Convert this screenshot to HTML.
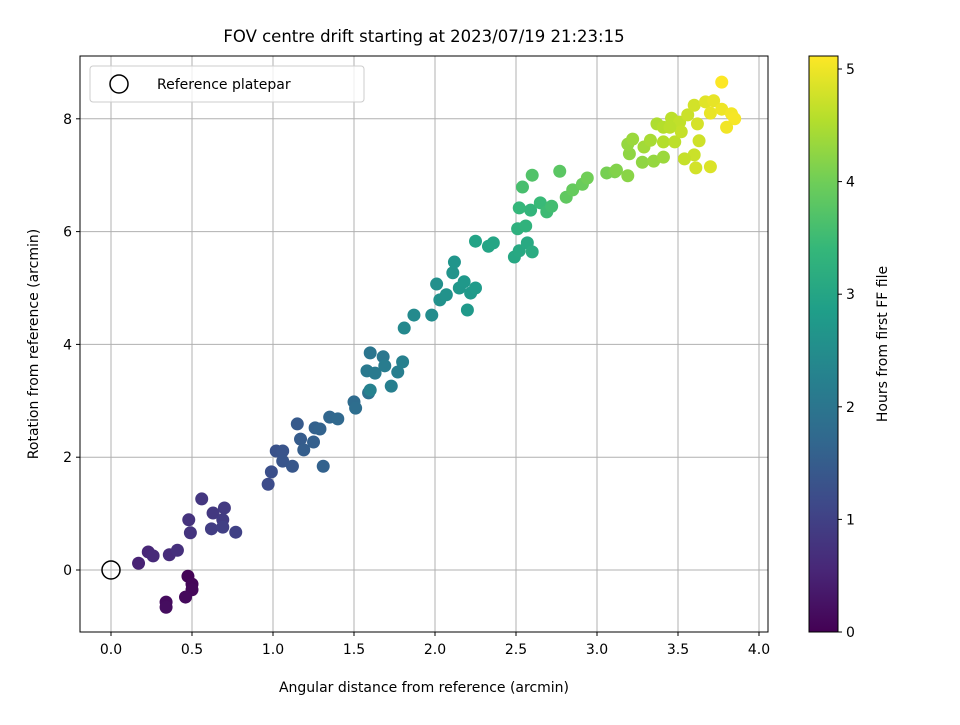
<!DOCTYPE html>
<html><head><meta charset="utf-8"><style>
body{margin:0;background:#fff;}
svg text{font-family:"DejaVu Sans","Liberation Sans",sans-serif;fill:#000;}
</style></head><body>
<svg id="chart" width="960" height="720" xmlns="http://www.w3.org/2000/svg">
<defs>
<linearGradient id="vir" x1="0" y1="1" x2="0" y2="0">
<stop offset="0" stop-color="#440154"/><stop offset="0.111" stop-color="#482878"/>
<stop offset="0.222" stop-color="#3e4989"/><stop offset="0.333" stop-color="#31688e"/>
<stop offset="0.444" stop-color="#26828e"/><stop offset="0.556" stop-color="#1f9e89"/>
<stop offset="0.667" stop-color="#35b779"/><stop offset="0.778" stop-color="#6dcd59"/>
<stop offset="0.889" stop-color="#b4de2c"/>
<stop offset="1" stop-color="#fde725"/>
</linearGradient>
</defs>
<text x="424" y="42" text-anchor="middle" font-size="16.5">FOV centre drift starting at 2023/07/19 21:23:15</text>
<g id="grid"></g>
<g id="marks"></g>
<rect x="80" y="56" width="688" height="576" fill="none" stroke="#000" stroke-width="1"/>
<g id="ticks"></g>
<text x="424" y="692" text-anchor="middle" font-size="14">Angular distance from reference (arcmin)</text>
<text transform="translate(38,344) rotate(-90)" text-anchor="middle" font-size="14">Rotation from reference (arcmin)</text>
<g>
<rect x="90" y="66" width="274" height="36" rx="3" fill="#fff" fill-opacity="0.8" stroke="#ccc"/>
<circle cx="119" cy="84" r="9" fill="none" stroke="#000" stroke-width="1.5"/>
<text x="157" y="89" font-size="14">Reference platepar</text>
</g>
<rect x="809" y="56" width="29" height="576" fill="url(#vir)" stroke="#000" stroke-width="1"/>
<g id="cbticks"></g>
<text transform="translate(887,344) rotate(-90)" text-anchor="middle" font-size="14">Hours from first FF file</text>
</svg>
<script>
const xTicks=[0.0,0.5,1.0,1.5,2.0,2.5,3.0,3.5,4.0];
const yTicks=[0,2,4,6,8];
const cbTicks=[0,1,2,3,4,5];
const xs=[0.475,0.50,0.50,0.46,0.34,0.34,
0.17,0.23,0.26,0.36,0.41,
0.48,0.49,0.56,0.63,0.70,0.69,0.62,0.69,0.77,
0.97,0.99,1.02,1.06,1.06,1.12,1.15,1.17,1.19,1.25,1.26,1.29,1.31,1.35,1.40,1.50,1.51,1.59,
1.60,1.68,1.58,1.63,1.69,1.77,1.80,1.73,1.60,
1.81,1.87,1.98,2.01,2.03,2.07,2.11,2.12,2.15,2.18,2.22,2.25,2.20,
2.25,2.33,2.36,2.49,2.52,2.57,2.60,
2.51,2.56,2.59,2.52,2.65,2.69,2.72,2.54,2.60,2.77,2.81,2.85,2.91,2.94,3.06,3.11,
3.12,3.19,3.28,3.35,3.41,3.20,3.19,3.22,3.29,3.33,3.37,3.41,3.41,3.48,3.46,3.51,3.52,3.56,3.60,3.62,3.63,3.60,3.54,3.61,3.70,3.67,3.72,3.70,3.77,3.83,3.85,3.80,3.77,3.45];
const ys=[-0.11,-0.25,-0.35,-0.48,-0.57,-0.66,
0.12,0.32,0.25,0.27,0.35,
0.89,0.66,1.26,1.01,1.10,0.89,0.73,0.76,0.67,
1.52,1.74,2.11,2.11,1.93,1.84,2.59,2.32,2.13,2.27,2.52,2.50,1.84,2.71,2.68,2.98,2.87,3.14,
3.85,3.78,3.53,3.49,3.62,3.51,3.69,3.26,3.19,
4.29,4.52,4.52,5.07,4.79,4.88,5.27,5.46,5.00,5.11,4.91,5.00,4.61,
5.83,5.74,5.80,5.55,5.66,5.80,5.64,
6.05,6.10,6.38,6.42,6.51,6.35,6.45,6.79,7.00,7.07,6.61,6.74,6.84,6.95,7.04,7.06,
7.09,6.99,7.23,7.25,7.32,7.38,7.55,7.64,7.50,7.62,7.91,7.85,7.59,7.59,8.01,7.94,7.77,8.07,8.24,7.91,7.61,7.36,7.29,7.13,7.15,8.30,8.32,8.10,8.17,8.09,8.00,7.85,8.65,7.85];
const hours=[0.05,0.08,0.10,0.12,0.15,0.18,
0.50,0.55,0.60,0.65,0.70,
0.75,0.78,0.82,0.85,0.88,0.90,0.93,0.96,1.00,
1.20,1.25,1.30,1.33,1.36,1.40,1.44,1.48,1.52,1.55,1.58,1.62,1.60,1.68,1.72,1.80,1.84,1.90,
2.00,2.04,2.07,2.10,2.14,2.18,2.22,2.20,2.26,
2.40,2.44,2.48,2.55,2.58,2.60,2.63,2.66,2.70,2.72,2.75,2.78,2.74,
2.95,2.98,3.00,3.05,3.08,3.10,3.14,
3.25,3.30,3.35,3.38,3.45,3.50,3.55,3.60,3.70,3.80,3.85,3.90,3.95,4.00,4.05,4.10,
4.15,4.20,4.25,4.30,4.35,4.25,4.30,4.35,4.40,4.45,4.50,4.55,4.55,4.62,4.60,4.65,4.68,4.72,4.78,4.80,4.75,4.72,4.68,4.78,4.85,4.90,4.94,4.96,5.00,5.04,5.06,5.02,5.11,4.60];
const sx=v=>111+v*162, sy=v=>570-v*56.4, sc=h=>632-h*112.6;
const vir=[[68,1,84],[72,40,120],[62,73,137],[49,104,142],[38,130,142],[31,158,137],[53,183,121],[109,205,89],[180,222,44],[253,231,37]];
function col(h){let t=Math.max(0,Math.min(1,h/5.115))*(vir.length-1);let i=Math.min(Math.floor(t),vir.length-2),f=t-i;
return 'rgb('+vir[i].map((c,k)=>Math.round(c+(vir[i+1][k]-c)*f)).join(',')+')';}
const NS='http://www.w3.org/2000/svg';
function mk(tag,attrs,parent,txt){const e=document.createElementNS(NS,tag);for(const k in attrs)e.setAttribute(k,attrs[k]);if(txt!==undefined)e.textContent=txt;parent.appendChild(e);return e;}
const grid=document.getElementById('grid'),ticks=document.getElementById('ticks'),marks=document.getElementById('marks'),cbt=document.getElementById('cbticks');
xTicks.forEach(v=>{const x=sx(v);
const g=mk('line',{x1:x,x2:x,y1:56,y2:632,stroke:'#b0b0b0','stroke-width':1},grid);


mk('line',{x1:x,x2:x,y1:632,y2:636,stroke:'#000'},ticks);
const t=mk('text',{x:x,y:654,'text-anchor':'middle','font-size':14},ticks,v.toFixed(1));

});
yTicks.forEach(v=>{const y=sy(v);
const g=mk('line',{x1:80,x2:768,y1:y,y2:y,stroke:'#b0b0b0','stroke-width':1},grid);


mk('line',{x1:76,x2:80,y1:y,y2:y,stroke:'#000'},ticks);
const t=mk('text',{x:72,y:y+5,'text-anchor':'end','font-size':14},ticks,String(v));

});
cbTicks.forEach(v=>{const y=sc(v);
mk('line',{x1:838,x2:842,y1:y,y2:y,stroke:'#000'},cbt);
const t=mk('text',{x:846,y:y+5,'font-size':14},cbt,String(v));

});
xs.forEach((x,i)=>{const c=mk('circle',{cx:sx(x),cy:sy(ys[i]),r:6.5,fill:col(hours[i])},marks);

});
const ref=mk('circle',{cx:sx(0),cy:sy(0),r:9,fill:'none',stroke:'#000','stroke-width':1.5},marks);


</script>
</body></html>
